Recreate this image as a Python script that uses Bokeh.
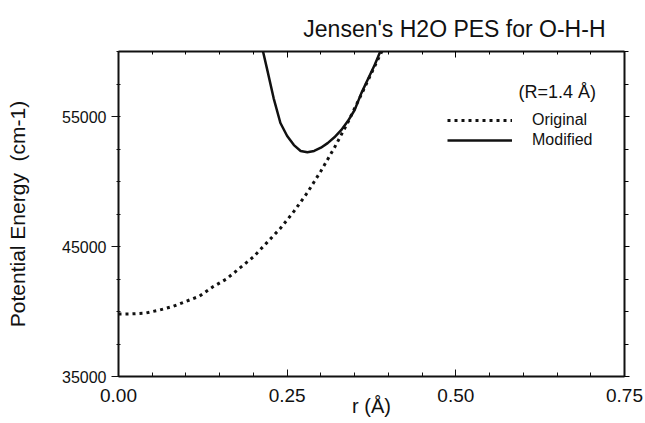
from bokeh.plotting import figure
from bokeh.models import (LinearAxis, FixedTicker, NumeralTickFormatter, Range1d,
                          Legend, LegendItem, Label, BasicTickFormatter)
from bokeh.embed import file_html
from bokeh.resources import INLINE

# ---- data ----
r_original = [0.0, 0.02, 0.04, 0.06, 0.08, 0.10, 0.12, 0.14, 0.16, 0.18, 0.20,
              0.22, 0.24, 0.26, 0.28, 0.30, 0.32, 0.34, 0.36, 0.38, 0.395]
e_original = [39800, 39820, 39880, 40100, 40380, 40780, 41180, 41900, 42500, 43350, 44200,
              45300, 46400, 47700, 49150, 50800, 52600, 54550, 56700, 58900, 60500]

r_modified = [0.212, 0.22, 0.23, 0.24, 0.25, 0.26, 0.27, 0.28, 0.29, 0.30, 0.31,
              0.32, 0.33, 0.34, 0.35, 0.36, 0.37, 0.38, 0.392]
e_modified = [60500, 58700, 56400, 54500, 53500, 52800, 52350, 52250, 52350, 52600, 52950,
              53400, 53950, 54650, 55500, 56800, 57900, 59000, 60500]

x_major = [0.0, 0.25, 0.50, 0.75]
x_minor = [i * 0.05 for i in range(16)]
y_major = [35000, 45000, 55000]
y_minor = [35000 + i * 2500 for i in range(11)]

title_text = "Jensen's H2O PES for O-H-H"
x_label = "r (Å)"
y_label = "Potential Energy\u00a0 (cm-1)"
note_text = "(R=1.4 Å)"
series_names = ["Original", "Modified"]

FONT = "Liberation Sans"
INK = "#111111"

p = figure(width=645, height=423, output_backend="svg", toolbar_location=None,
           x_range=Range1d(0, 0.75), y_range=Range1d(35000, 60000),
           min_border_left=118, min_border_right=21, min_border_top=51, min_border_bottom=47,
           background_fill_color="white", border_fill_color="white")
p.outline_line_color = None
p.grid.visible = False

p.title.text = title_text
p.title.align = "right"
p.title.text_font = FONT
p.title.text_font_size = "23px"
p.title.text_font_style = "normal"
p.title.text_color = INK
p.title.offset = 19
p.title.standoff = 20

# bottom axis
xa = p.xaxis[0]
xa.ticker = FixedTicker(ticks=x_major, minor_ticks=x_minor)
xa.formatter = NumeralTickFormatter(format="0.00")
xa.axis_label = x_label
xa.axis_line_width = 2
xa.axis_line_color = INK
xa.major_tick_in = 7
xa.major_tick_out = 0
xa.minor_tick_in = 4
xa.minor_tick_out = 0
xa.major_tick_line_color = INK
xa.minor_tick_line_color = INK
xa.major_label_text_font = FONT
xa.major_label_text_font_size = "19px"
xa.major_label_text_color = INK
xa.major_label_standoff = 12
xa.axis_label_text_font = FONT
xa.axis_label_text_font_size = "20px"
xa.axis_label_text_font_style = "normal"
xa.axis_label_text_color = INK
xa.axis_label_standoff = -10

# left axis
ya = p.yaxis[0]
ya.ticker = FixedTicker(ticks=y_major, minor_ticks=y_minor)
ya.formatter = BasicTickFormatter(use_scientific=False)
ya.axis_label = y_label
ya.axis_line_width = 2
ya.axis_line_color = INK
ya.major_tick_in = 0
ya.major_tick_out = 7
ya.minor_tick_in = 2
ya.minor_tick_out = 2
ya.major_tick_line_color = INK
ya.minor_tick_line_color = INK
ya.major_label_text_font = FONT
ya.major_label_text_font_size = "16px"
ya.major_label_text_color = INK
ya.major_label_standoff = 5
ya.axis_label_text_font = FONT
ya.axis_label_text_font_size = "21px"
ya.axis_label_text_font_style = "normal"
ya.axis_label_text_color = INK
ya.axis_label_standoff = 30

# top axis (ticks only, labels not drawn)
ta = LinearAxis(ticker=FixedTicker(ticks=x_major, minor_ticks=x_minor))
ta.axis_line_width = 2
ta.axis_line_color = INK
ta.major_tick_in = 6
ta.major_tick_out = 0
ta.minor_tick_in = 3
ta.minor_tick_out = 0
ta.major_label_text_color = None
ta.major_label_text_font_size = "1px"
ta.major_label_standoff = 0
p.add_layout(ta, "above")

# right axis (ticks only, labels not drawn)
ra = LinearAxis(ticker=FixedTicker(ticks=y_major, minor_ticks=y_minor))
ra.axis_line_width = 2
ra.axis_line_color = INK
ra.major_tick_in = 0
ra.major_tick_out = 5
ra.minor_tick_in = 0
ra.minor_tick_out = 4
ra.major_label_text_color = None
ra.major_label_text_font_size = "1px"
ra.major_label_standoff = 0
p.add_layout(ra, "right")

l_orig = p.line(r_original, e_original, line_color=INK, line_width=3,
                line_dash="3 4", line_cap="butt")
l_mod = p.line(r_modified, e_modified, line_color=INK, line_width=2.5)

legend = Legend(items=[LegendItem(label=series_names[0], renderers=[l_orig]),
                       LegendItem(label=series_names[1], renderers=[l_mod])],
                location=(329, 226), orientation="vertical")
legend.border_line_color = None
legend.background_fill_alpha = 0
legend.padding = 0
legend.margin = 0
legend.spacing = 0
legend.glyph_width = 65
legend.glyph_height = 20
legend.label_height = 20
legend.label_standoff = 20
legend.label_text_font = FONT
legend.label_text_font_size = "16px"
legend.label_text_color = INK
p.add_layout(legend, "center")

note = Label(x=0.593, y=56875, text=note_text, text_font=FONT, text_font_size="18px",
             text_color=INK, text_baseline="alphabetic")
p.add_layout(note)

open("out.html", "w").write(file_html(p, INLINE))
